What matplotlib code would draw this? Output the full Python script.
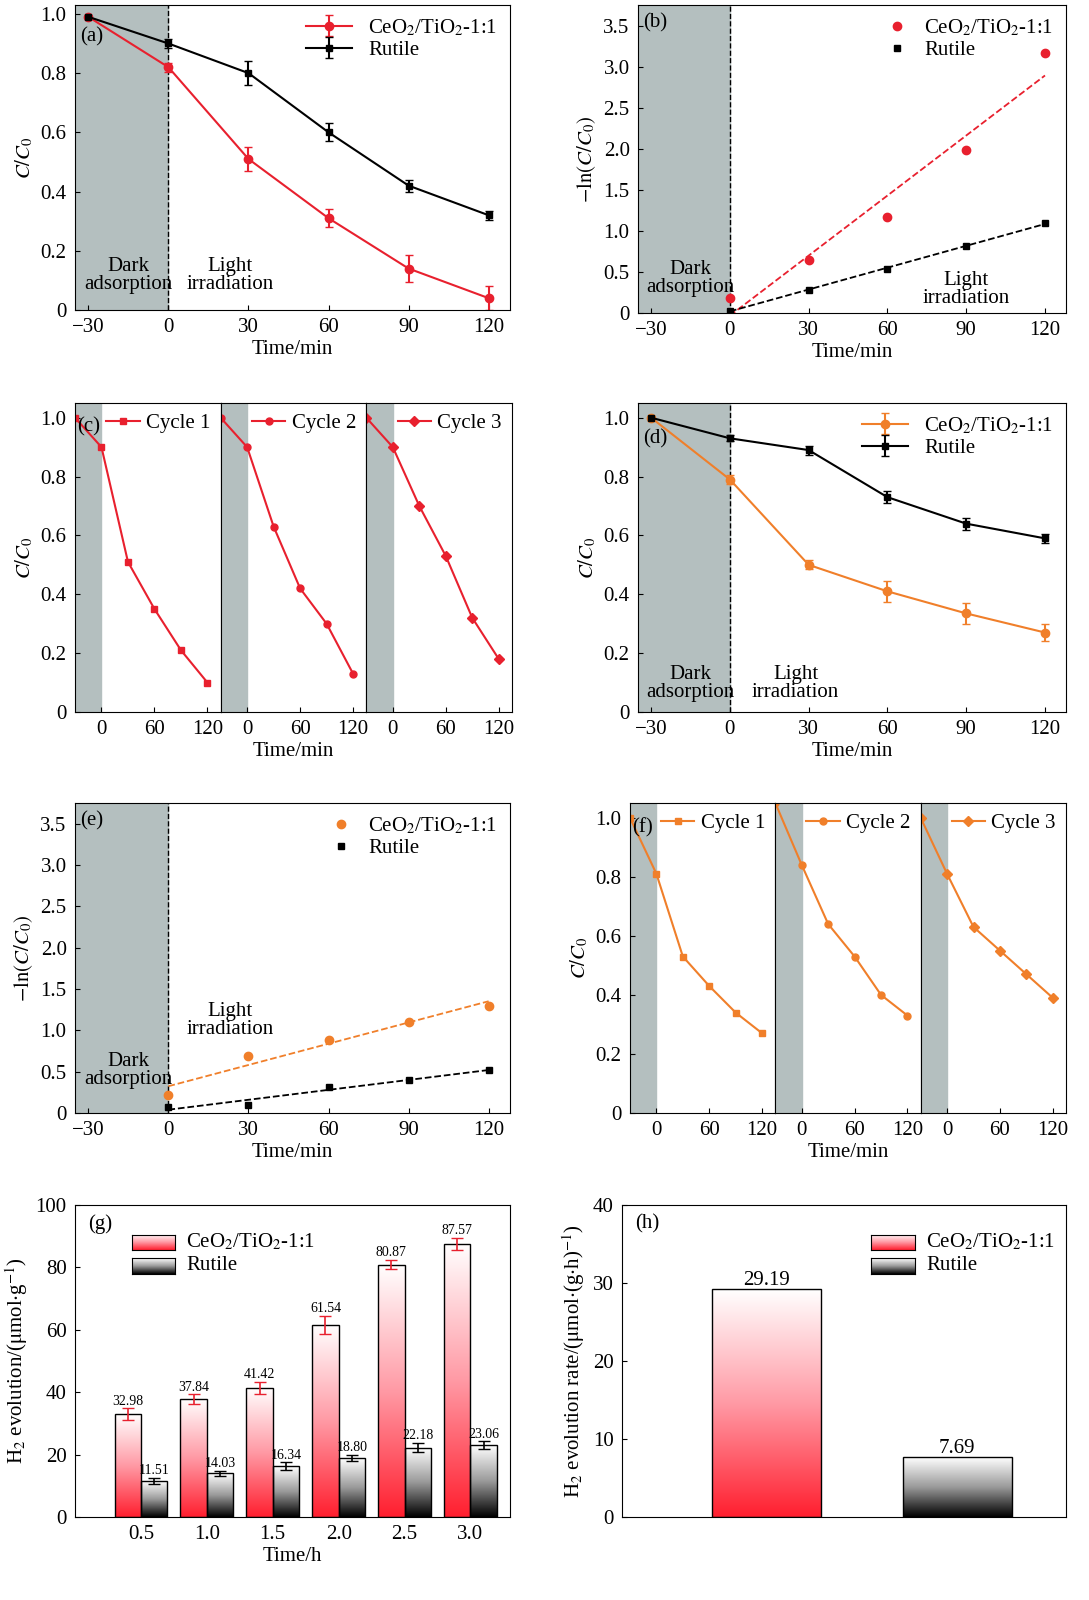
import numpy as np
import matplotlib
matplotlib.use("Agg")
import matplotlib.pyplot as plt
from matplotlib.colors import LinearSegmentedColormap

plt.rcParams["font.family"] = ["Liberation Serif", "DejaVu Serif"]
plt.rcParams["mathtext.fontset"] = "stix"
plt.rcParams["font.size"] = 15
plt.rcParams["xtick.direction"] = "in"
plt.rcParams["ytick.direction"] = "in"

# ─── Data ─────────────────────────────────────────────────────────────────────
t = [-30, 0, 30, 60, 90, 120]
t_lin = [0, 30, 60, 90, 120]

a_ce = [0.99, 0.82, 0.51, 0.31, 0.14, 0.04]
a_ce_err = [0.0, 0.015, 0.04, 0.03, 0.045, 0.04]
a_ru = [0.99, 0.90, 0.80, 0.60, 0.42, 0.32]
a_ru_err = [0.0, 0.015, 0.04, 0.03, 0.02, 0.015]

b_ce = [0.18, 0.65, 1.17, 1.98, 3.17]
b_ru = [0.03, 0.28, 0.54, 0.82, 1.09]

c_cycles = [[1.0, 0.90, 0.51, 0.35, 0.21, 0.10],
            [1.0, 0.90, 0.63, 0.42, 0.30, 0.13],
            [1.0, 0.90, 0.70, 0.53, 0.32, 0.18]]

d_ce = [1.0, 0.79, 0.50, 0.41, 0.335, 0.27]
d_ce_err = [0.0, 0.015, 0.015, 0.035, 0.035, 0.03]
d_ru = [1.0, 0.93, 0.89, 0.73, 0.64, 0.59]
d_ru_err = [0.0, 0.01, 0.015, 0.02, 0.02, 0.015]

e_ce = [0.22, 0.69, 0.88, 1.10, 1.30]
e_ru = [0.07, 0.10, 0.31, 0.40, 0.52]

f_cycles = [[1.0, 0.81, 0.53, 0.43, 0.34, 0.27],
            [1.05, 0.84, 0.64, 0.53, 0.40, 0.33],
            [1.0, 0.81, 0.63, 0.55, 0.47, 0.39]]

g_time = [0.5, 1.0, 1.5, 2.0, 2.5, 3.0]
g_ce = [32.98, 37.84, 41.42, 61.54, 80.87, 87.57]
g_ce_err = [1.8, 1.5, 2.0, 3.0, 1.5, 2.0]
g_ru = [11.51, 14.03, 16.34, 18.80, 22.18, 23.06]
g_ru_err = [1.0, 0.8, 1.2, 1.0, 1.5, 1.2]

h_vals = [29.19, 7.69]

RED = "#e8202e"
ORANGE = "#f07f2a"
SHADE = "#b4bfbf"
CE_LBL = "CeO$_2$/TiO$_2$-1:1"
CC0 = "$C/C_0$"
LNC = r"$-\ln(C/C_0)$"

cmap_red = LinearSegmentedColormap.from_list("r", ["#ff1f2f", "#ff9aa5", "#ffffff"])
cmap_blk = LinearSegmentedColormap.from_list("k", ["#000000", "#9a9a9a", "#ffffff"])

fig = plt.figure(figsize=(10.89, 16), dpi=100)


def rect(x0, y0, x1, y1):
    return [x0 / 1089, 1 - y1 / 1600, (x1 - x0) / 1089, (y1 - y0) / 1600]


def setup_time(ax, ylim, yticks, ylab):
    ax.set_xlim(-35, 128)
    ax.set_xticks([-30, 0, 30, 60, 90, 120])
    ax.set_xticklabels(["\u221230", "0", "30", "60", "90", "120"])
    ax.set_ylim(*ylim)
    ax.set_yticks(yticks)
    ax.set_ylabel(ylab)
    ax.set_xlabel("Time/min", labelpad=2)
    ax.tick_params(pad=6)
    ax.axvspan(-35, 0, color=SHADE, zorder=0)
    ax.axvline(0, color="k", ls="--", lw=1, zorder=1)


def fmt(v):
    return "0" if v == 0 else f"{v:.1f}"


# (a)
ax = fig.add_axes(rect(75, 5, 510, 310))
setup_time(ax, (0, 1.03), np.arange(0, 1.01, 0.2), CC0)
ax.set_yticklabels([fmt(v) for v in np.arange(0, 1.01, 0.2)])
ax.errorbar(t, a_ce, yerr=a_ce_err, color=RED, marker="o", ms=6, capsize=3, label=CE_LBL)
ax.errorbar(t, a_ru, yerr=a_ru_err, color="k", marker="s", ms=5, capsize=3, label="Rutile")
ax.legend(loc="upper right", frameon=False, handlelength=2.2, borderaxespad=0.2, labelspacing=0.1)
ax.text(-33, 0.955, "(a)", va="top")
ax.text(-15, 0.07, "Dark\nadsorption", ha="center", linespacing=0.95)
ax.text(23, 0.07, "Light\nirradiation", ha="center", linespacing=0.95)

# (b)
ax = fig.add_axes(rect(638, 5, 1066, 313))
setup_time(ax, (0, 3.75), np.arange(0, 3.51, 0.5), LNC)
ax.set_yticklabels([fmt(v) for v in np.arange(0, 3.51, 0.5)])
for y, c, m, lbl in [(b_ce, RED, "o", CE_LBL), (b_ru, "k", "s", "Rutile")]:
    ax.plot(t_lin, y, ls="none", marker=m, color=c, ms=6 if m == "o" else 5, label=lbl)
    k, b0 = np.polyfit(t_lin, y, 1)
    xs = np.array([0, 120])
    ax.plot(xs, k * xs + b0, color=c, ls="--", lw=1.3)
ax.legend(loc="upper right", frameon=False, handlelength=1, borderaxespad=0.2, labelspacing=0.1)
ax.text(-33, 3.65, "(b)", va="top")
ax.text(-15, 0.25, "Dark\nadsorption", ha="center", linespacing=0.95)
ax.text(90, 0.12, "Light\nirradiation", ha="center", linespacing=0.95)


def cycles(x0, x1, y0, y1, data, color, tag):
    edges = np.linspace(x0, x1, 4)
    markers = ["s", "o", "D"]
    axs = []
    for i in range(3):
        ax = fig.add_axes(rect(edges[i], y0, edges[i + 1], y1))
        ax.set_xlim(-30, 135)
        ax.set_ylim(0, 1.05)
        ax.tick_params(pad=6)
        ax.axvspan(-30, 0, color=SHADE, zorder=0)
        ax.plot(t, data[i], color=color, marker=markers[i], ms=5 if i else 4.5,
                label=f"Cycle {i + 1}")
        ax.set_xticks([0, 60, 120])
        ax.legend(loc="upper right", frameon=False, handlelength=1.6,
                  borderaxespad=0.1, handletextpad=0.3)
        if i == 0:
            ax.set_yticks(np.arange(0, 1.01, 0.2))
            ax.set_yticklabels([fmt(v) for v in np.arange(0, 1.01, 0.2)])
            ax.set_ylabel(CC0)
        else:
            ax.set_yticks([])
        if i == 1:
            ax.set_xlabel("Time/min", labelpad=2)
        axs.append(ax)
    axs[0].text(-28, 1.0, tag, va="top")


# (c)
cycles(75, 512, 403, 712, c_cycles, RED, "(c)")

# (d)
ax = fig.add_axes(rect(638, 403, 1066, 712))
setup_time(ax, (0, 1.05), np.arange(0, 1.01, 0.2), CC0)
ax.set_yticklabels([fmt(v) for v in np.arange(0, 1.01, 0.2)])
ax.errorbar(t, d_ce, yerr=d_ce_err, color=ORANGE, marker="o", ms=6, capsize=3, label=CE_LBL)
ax.errorbar(t, d_ru, yerr=d_ru_err, color="k", marker="s", ms=5, capsize=3, label="Rutile")
ax.legend(loc="upper right", frameon=False, handlelength=2.2, borderaxespad=0.2, labelspacing=0.1)
ax.text(-33, 0.96, "(d)", va="top")
ax.text(-15, 0.05, "Dark\nadsorption", ha="center", linespacing=0.95)
ax.text(25, 0.05, "Light\nirradiation", ha="center", linespacing=0.95)

# (e)
ax = fig.add_axes(rect(75, 803, 510, 1113))
setup_time(ax, (0, 3.75), np.arange(0, 3.51, 0.5), LNC)
ax.set_yticklabels([fmt(v) for v in np.arange(0, 3.51, 0.5)])
for y, c, m, lbl in [(e_ce, ORANGE, "o", CE_LBL), (e_ru, "k", "s", "Rutile")]:
    ax.plot(t_lin, y, ls="none", marker=m, color=c, ms=6 if m == "o" else 5, label=lbl)
    k, b0 = np.polyfit(t_lin, y, 1)
    xs = np.array([0, 120])
    ax.plot(xs, k * xs + b0, color=c, ls="--", lw=1.3)
ax.legend(loc="upper right", frameon=False, handlelength=1, borderaxespad=0.2, labelspacing=0.1)
ax.text(-33, 3.65, "(e)", va="top")
ax.text(-15, 0.35, "Dark\nadsorption", ha="center", linespacing=0.95)
ax.text(23, 0.95, "Light\nirradiation", ha="center", linespacing=0.95)

# (f)
cycles(630, 1066, 803, 1113, f_cycles, ORANGE, "(f)")


def grad_bar(ax, x, w, h, cmap):
    img = np.linspace(0, 1, 256).reshape(-1, 1)
    ax.imshow(img, cmap=cmap, origin="lower", aspect="auto",
              extent=[x - w / 2, x + w / 2, 0, h], zorder=2)
    ax.add_patch(plt.Rectangle((x - w / 2, 0), w, h, fill=False, ec="k", lw=1, zorder=3))


def grad_legend(ax, x, y, cmap, label):
    ia = ax.inset_axes([x, y, 0.1, 0.05])
    ia.imshow(np.linspace(0, 1, 64).reshape(-1, 1), cmap=cmap, origin="lower", aspect="auto")
    ia.set_xticks([])
    ia.set_yticks([])
    ax.text(x + 0.125, y + 0.025, label, transform=ax.transAxes, va="center")


# (g)
ax = fig.add_axes(rect(75, 1205, 510, 1517))
w = 0.2
for x, vc, ec_, vr, er in zip(g_time, g_ce, g_ce_err, g_ru, g_ru_err):
    grad_bar(ax, x - 0.1, w, vc, cmap_red)
    grad_bar(ax, x + 0.1, w, vr, cmap_blk)
    ax.errorbar(x - 0.1, vc, yerr=ec_, color=RED, capsize=4, lw=1.2, zorder=4)
    ax.errorbar(x + 0.1, vr, yerr=er, color="k", capsize=4, lw=1.2, zorder=4)
    ax.text(x - 0.1, vc + ec_ + 1.2, f"{vc:.2f}", ha="center", fontsize=10)
    ax.text(x + 0.1, vr + er + 1.2, f"{vr:.2f}", ha="center", fontsize=10)
ax.set_xlim(0.0, 3.3)
ax.set_ylim(0, 100)
ax.set_xticks(g_time)
ax.set_xticklabels([f"{v:.1f}" for v in g_time])
ax.set_yticks(range(0, 101, 20))
ax.tick_params(pad=6)
ax.set_xlabel("Time/h", labelpad=2)
ax.set_ylabel(r"H$_2$ evolution/($\mathrm{\mu}$mol$\cdot$g$^{-1}$)")
ax.text(0.03, 0.97, "(g)", transform=ax.transAxes, va="top")
grad_legend(ax, 0.13, 0.855, cmap_red, CE_LBL)
grad_legend(ax, 0.13, 0.78, cmap_blk, "Rutile")

# (h)
ax = fig.add_axes(rect(622, 1205, 1066, 1517))
for x, v, cm in zip([1, 2], h_vals, [cmap_red, cmap_blk]):
    grad_bar(ax, x, 0.57, v, cm)
    ax.text(x, v + 0.5, f"{v:.2f}", ha="center")
ax.set_xlim(0.246, 2.57)
ax.set_ylim(0, 40)
ax.set_xticks([])
ax.set_yticks(range(0, 41, 10))
ax.tick_params(pad=6)
ax.set_ylabel(r"H$_2$ evolution rate/($\mathrm{\mu}$mol$\cdot$(g$\cdot$h)$^{-1}$)")
ax.text(0.03, 0.97, "(h)", transform=ax.transAxes, va="top")
grad_legend(ax, 0.56, 0.855, cmap_red, CE_LBL)
grad_legend(ax, 0.56, 0.78, cmap_blk, "Rutile")

fig.savefig("out.png", dpi=100)
